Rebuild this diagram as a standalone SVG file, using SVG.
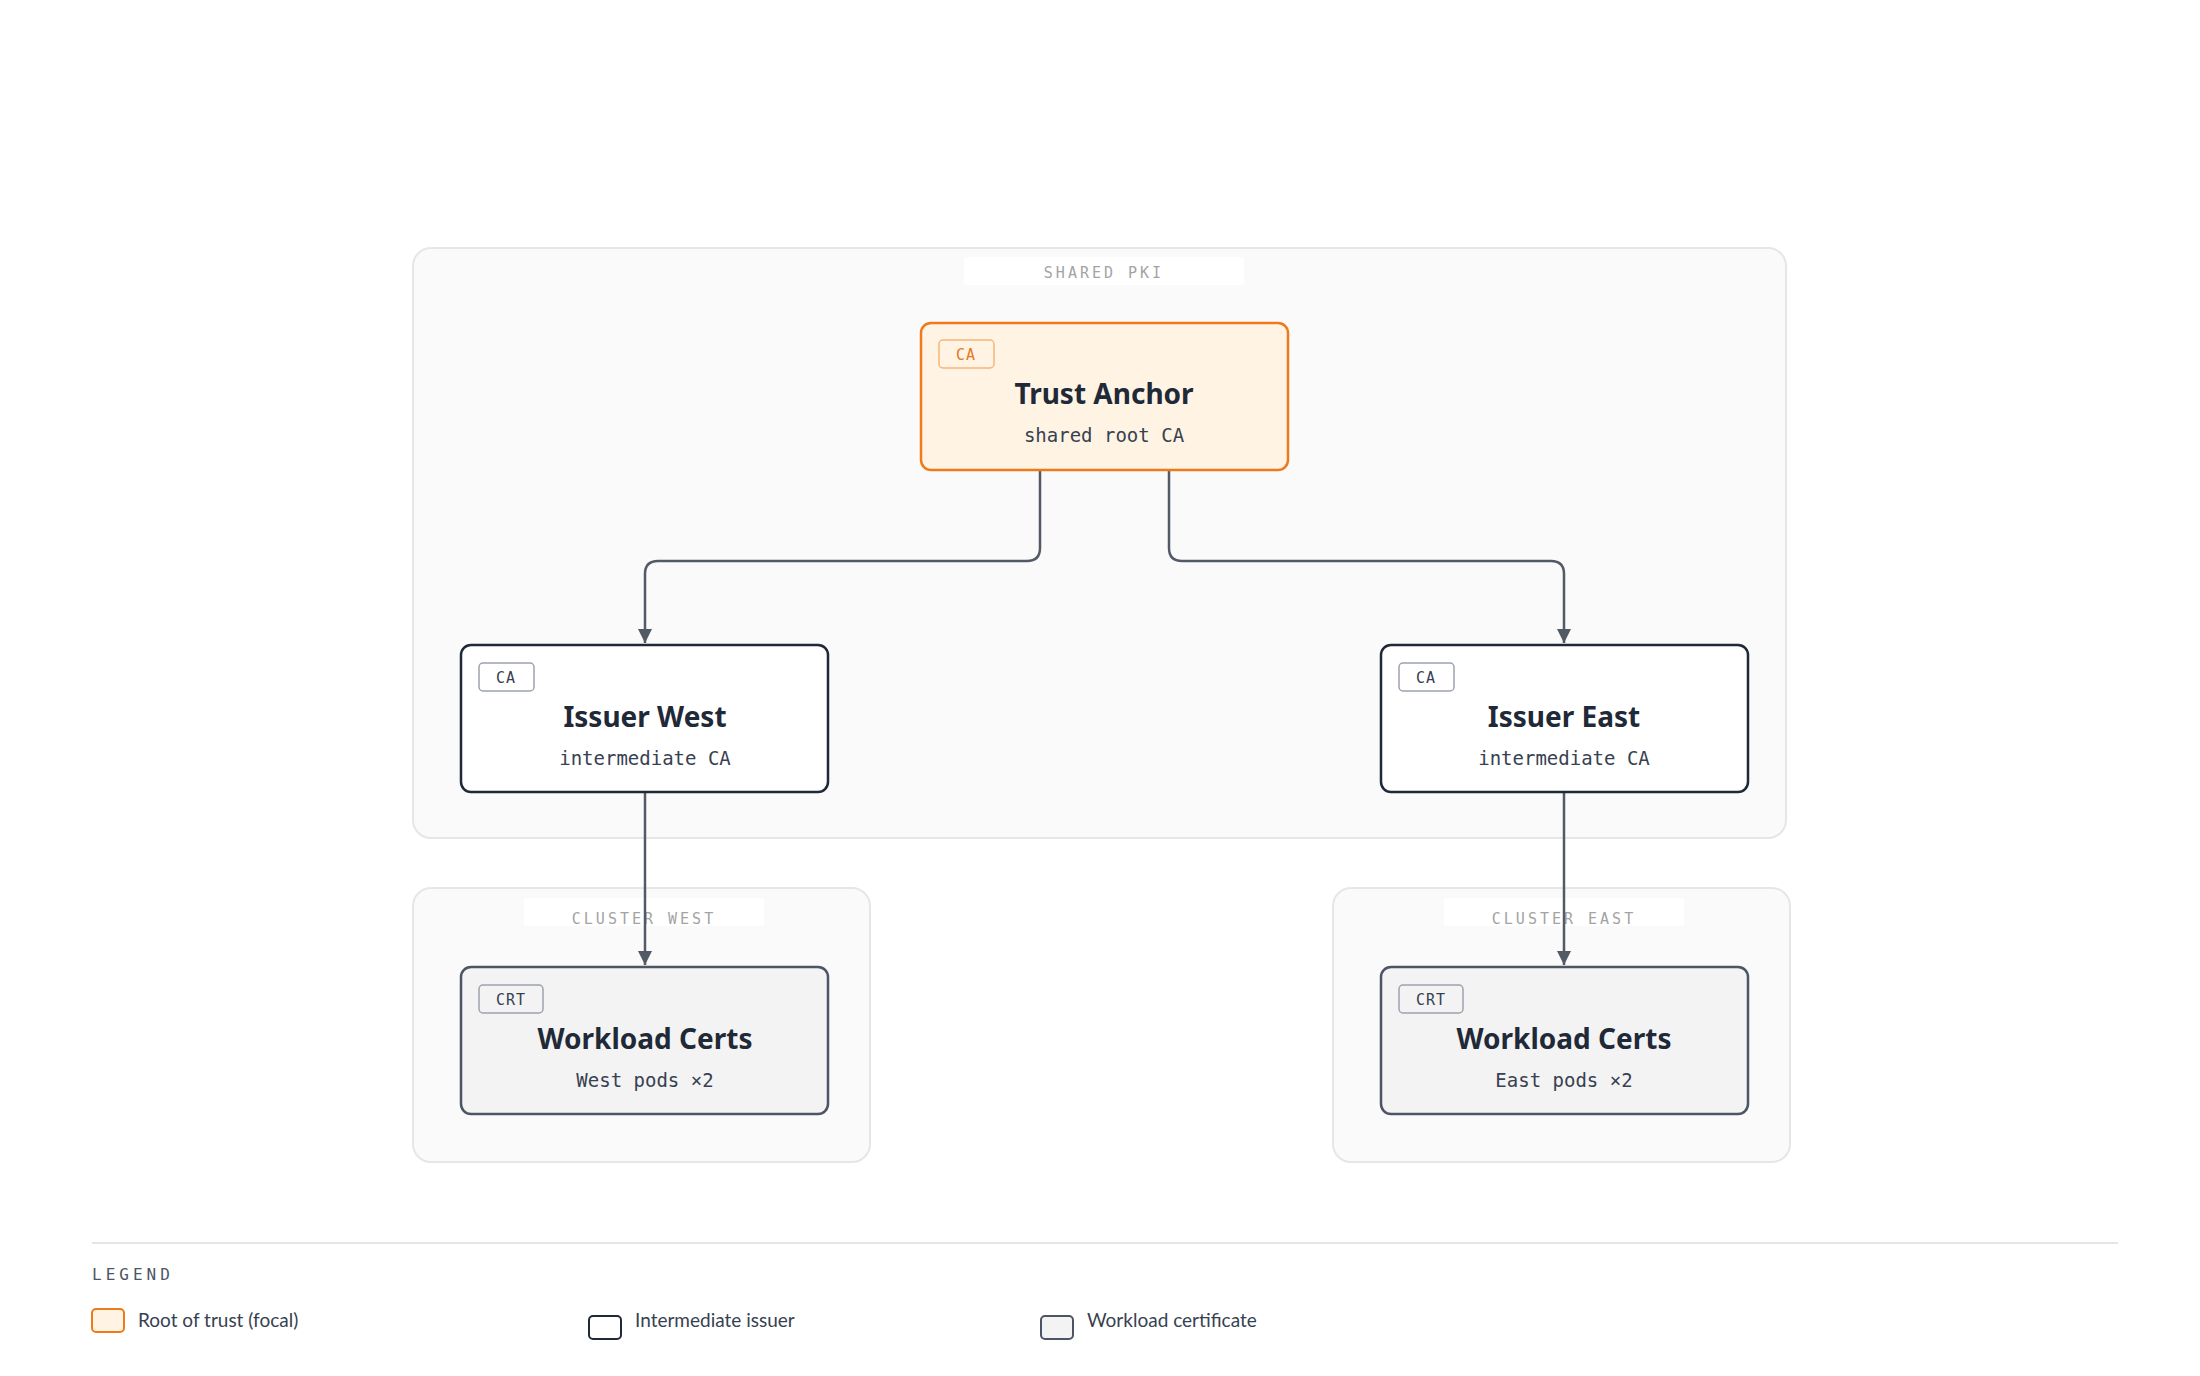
<svg xmlns="http://www.w3.org/2000/svg" width="2200" height="1376" viewBox="0 0 2200 1376">
<style>
.grp{fill:#fafafa;stroke:#e6e6e6;stroke-width:2}
.pill{fill:#ffffff}
.glbl{font-family:"DejaVu Sans Mono",monospace;font-size:15px;fill:#a3a3a3;letter-spacing:3px;text-anchor:middle}
.title{font-family:"Noto Sans","Open Sans",sans-serif;font-weight:700;font-size:28px;fill:#1f2937;text-anchor:middle}
.sub{font-family:"DejaVu Sans Mono",monospace;font-size:19px;fill:#374151;text-anchor:middle}
.badge{font-family:"DejaVu Sans Mono",monospace;font-size:15px;text-anchor:middle;letter-spacing:1px}
.edge{fill:none;stroke:#525a66;stroke-width:2.5}
.leg{font-family:"Lato","Noto Sans",sans-serif;font-size:19px;fill:#374151}
</style>
<defs>
<marker id="ah" viewBox="0 0 10 10" refX="10" refY="5" markerWidth="14" markerHeight="14" markerUnits="userSpaceOnUse" orient="auto"><path d="M0,0 L10,5 L0,10 z" fill="#525a66"/></marker>
</defs>
<rect width="2200" height="1376" fill="#ffffff"/>
<g id="group-shared-pki">
<rect class="grp" x="413" y="248" width="1373" height="590" rx="18"/>
<rect class="pill" x="964" y="257" width="280" height="28" rx="4"/>
<text class="glbl" x="1104" y="278">SHARED PKI</text>
</g>
<g id="group-cluster-west">
<rect class="grp" x="413" y="888" width="457" height="274" rx="18"/>
<rect class="pill" x="524" y="898" width="240" height="28" rx="4"/>
<text class="glbl" x="644" y="924">CLUSTER WEST</text>
</g>
<g id="group-cluster-east">
<rect class="grp" x="1333" y="888" width="457" height="274" rx="18"/>
<rect class="pill" x="1444" y="898" width="240" height="28" rx="4"/>
<text class="glbl" x="1564" y="924">CLUSTER EAST</text>
</g>
<g id="connectors">
<path class="edge" d="M1040,470 V548 Q1040,561 1027,561 H658 Q645,561 645,574 V643" marker-end="url(#ah)"/>
<path class="edge" d="M1169,470 V548 Q1169,561 1182,561 H1551 Q1564,561 1564,574 V643" marker-end="url(#ah)"/>
<path class="edge" d="M645,792 V965" marker-end="url(#ah)"/>
<path class="edge" d="M1564,792 V965" marker-end="url(#ah)"/>
</g>
<g id="trust-anchor">
<rect x="921" y="323" width="367" height="147" rx="10" fill="#fff4e3" stroke="#ee7a1c" stroke-width="2.5"/>
<rect x="939" y="340" width="55" height="28" rx="4" fill="#fff4e3" stroke="#f6b57a" stroke-width="1.5"/>
<text class="badge" x="966" y="360" fill="#e8761a">CA</text>
<text class="title" x="1104" y="404">Trust Anchor</text>
<text class="sub" x="1104" y="442">shared root CA</text>
</g>
<g id="issuer-west">
<rect x="461" y="645" width="367" height="147" rx="10" fill="#ffffff" stroke="#1f2937" stroke-width="2.5"/>
<rect x="479" y="663" width="55" height="28" rx="4" fill="#ffffff" stroke="#9ca3af" stroke-width="1.5"/>
<text class="badge" x="506" y="683" fill="#374151">CA</text>
<text class="title" x="645" y="727">Issuer West</text>
<text class="sub" x="645" y="765">intermediate CA</text>
</g>
<g id="issuer-east">
<rect x="1381" y="645" width="367" height="147" rx="10" fill="#ffffff" stroke="#1f2937" stroke-width="2.5"/>
<rect x="1399" y="663" width="55" height="28" rx="4" fill="#ffffff" stroke="#9ca3af" stroke-width="1.5"/>
<text class="badge" x="1426" y="683" fill="#374151">CA</text>
<text class="title" x="1564" y="727">Issuer East</text>
<text class="sub" x="1564" y="765">intermediate CA</text>
</g>
<g id="workload-west">
<rect x="461" y="967" width="367" height="147" rx="10" fill="#f3f3f3" stroke="#4b5563" stroke-width="2.5"/>
<rect x="479" y="985" width="64" height="28" rx="4" fill="#f3f3f3" stroke="#9ca3af" stroke-width="1.5"/>
<text class="badge" x="511" y="1005" fill="#374151">CRT</text>
<text class="title" x="645" y="1049">Workload Certs</text>
<text class="sub" x="645" y="1087">West pods ×2</text>
</g>
<g id="workload-east">
<rect x="1381" y="967" width="367" height="147" rx="10" fill="#f3f3f3" stroke="#4b5563" stroke-width="2.5"/>
<rect x="1399" y="985" width="64" height="28" rx="4" fill="#f3f3f3" stroke="#9ca3af" stroke-width="1.5"/>
<text class="badge" x="1431" y="1005" fill="#374151">CRT</text>
<text class="title" x="1564" y="1049">Workload Certs</text>
<text class="sub" x="1564" y="1087">East pods ×2</text>
</g>
<g id="legend">
<line x1="92" y1="1243" x2="2118" y2="1243" stroke="#e5e5e5" stroke-width="2"/>
<text x="92" y="1280" font-family="DejaVu Sans Mono,monospace" font-size="16" fill="#4b5563" letter-spacing="4">LEGEND</text>
<rect x="92" y="1309" width="32" height="23" rx="4" fill="#fff4e3" stroke="#ee7a1c" stroke-width="2"/>
<text class="leg" x="138" y="1327">Root of trust (focal)</text>
<rect x="589" y="1316" width="32" height="23" rx="4" fill="#ffffff" stroke="#1f2937" stroke-width="2"/>
<text class="leg" x="635" y="1327">Intermediate issuer</text>
<rect x="1041" y="1316" width="32" height="23" rx="4" fill="#f3f3f3" stroke="#4b5563" stroke-width="2"/>
<text class="leg" x="1087" y="1327">Workload certificate</text>
</g>
</svg>
